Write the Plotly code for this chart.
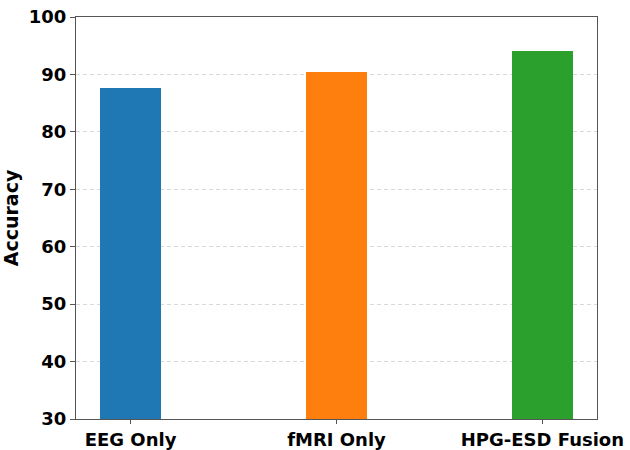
import plotly.graph_objects as go

categories = ["EEG Only", "fMRI Only", "HPG-ESD Fusion"]
accuracy = [87.6, 90.35, 94.1]
colors = ["#1f77b4", "#ff7f0e", "#2ca02c"]
y_ticks = [30, 40, 50, 60, 70, 80, 90, 100]

fig = go.Figure()
fig.add_trace(go.Bar(
    x=list(range(len(categories))),
    y=accuracy,
    width=0.3,
    marker=dict(color=colors, line=dict(width=0)),
))

font_fam = "DejaVu Sans"
fig.update_layout(
    width=630, height=450,
    margin=dict(l=76, r=33, t=17, b=31, autoexpand=False),
    plot_bgcolor="white", paper_bgcolor="white",
    showlegend=False,
    bargap=0,
    font=dict(family=font_fam, size=18, color="black"),
    xaxis=dict(
        tickvals=list(range(len(categories))),
        ticktext=[f"<b>{c}</b>" for c in categories],
        range=[-0.265, 2.265],
        automargin=False,
        showline=True, linecolor="#555", linewidth=1.2, mirror=True,
        ticks="outside", ticklen=4, tickcolor="#555",
        showgrid=False, zeroline=False,
        tickfont=dict(size=18, family=font_fam),
    ),
    yaxis=dict(
        range=[30, 100],
        automargin=False,
        tickvals=y_ticks,
        ticktext=[f"<b>{t}</b>" for t in y_ticks],
        showline=True, linecolor="#555", linewidth=1.2, mirror=True,
        ticks="outside", ticklen=5, tickcolor="#555",
        showgrid=True, gridcolor="rgba(180,180,180,0.5)", griddash="4px,3px", gridwidth=1,
        zeroline=False,
        tickfont=dict(size=18, family=font_fam),
        title=dict(text="<b>Accuracy</b>", font=dict(size=19, family=font_fam), standoff=9),
    ),
)

fig.write_html("out.html")
